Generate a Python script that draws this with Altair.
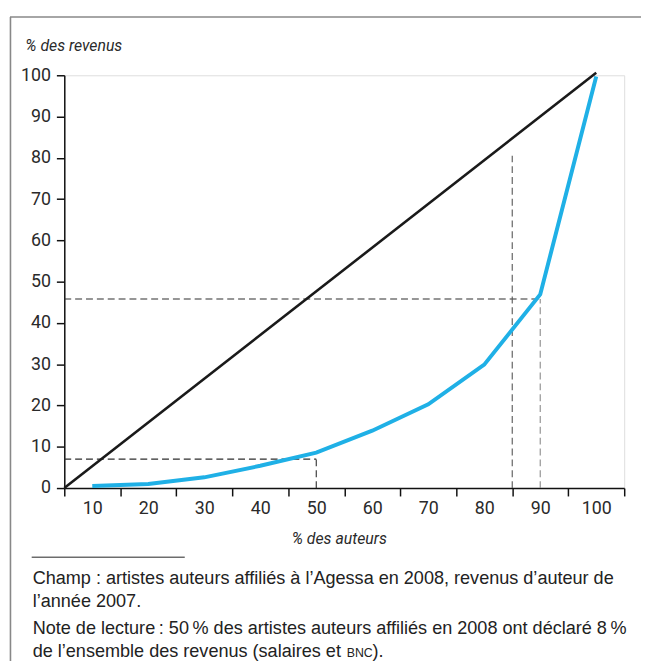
import altair as alt
import pandas as pd

# ---- data ----
authors = [10, 20, 30, 40, 50, 60, 70, 80, 90, 100]
revenue = [0.5, 1.0, 2.6, 5.4, 8.6, 13.9, 20.3, 29.9, 46.9, 99.7]

diag_x = [5, 100]
diag_y = [0, 100.6]

seg_x = [5, 50, 5, 90, 85]
seg_x2 = [50, 50, 90, 90, 85]
seg_y = [7, 0, 45.8, 0, 0]
seg_y2 = [7, 7, 45.8, 45.8, 80.5]
seg_kind = ["a", "a", "a", "b", "c"]

x_ticks = [5, 15, 25, 35, 45, 55, 65, 75, 85, 95, 105]
y_ticks = [0, 10, 20, 30, 40, 50, 60, 70, 80, 90, 100]

note1 = "Champ : artistes auteurs affiliés à l’Agessa en 2008, revenus d’auteur de"
note2 = "l’année 2007."
note3 = "Note de lecture\u2009: 50\u2009% des artistes auteurs affiliés en 2008 ont déclaré 8\u2009%"
note4a = "de l’ensemble des revenus (salaires et"
note4b = "BNC"
note4c = ")."

AXF = "Roboto, Liberation Sans, sans-serif"
SANS = "Liberation Sans, Arial, sans-serif"

curve = pd.DataFrame({"x": authors, "y": revenue})
diag = pd.DataFrame({"x": diag_x, "y": diag_y})
segs = pd.DataFrame({"x": seg_x, "x2": seg_x2, "y": seg_y, "y2": seg_y2, "k": seg_kind})
one = pd.DataFrame({"d": [0]})

xscale = alt.Scale(domain=[5, 105], nice=False, zero=False)
yscale = alt.Scale(domain=[0, 100], nice=False)

xaxis = alt.Axis(
    values=x_ticks,
    labelExpr="datum.value > 100 ? '' : format(datum.value + 5, 'd')",
    labelOffset=28.35,
    labelFont=AXF, labelFontSize=18, labelColor="#2a2a2a",
    labelPadding=4, labelFlush=False, labelOverlap=False,
    tickSize=8, tickColor="#111", tickWidth=1.5,
    domainColor="#111", domainWidth=1.5, grid=False,
    title="% des auteurs", titleFont=AXF, titleFontSize=16,
    titleFontStyle="italic", titleFontWeight="normal", titleColor="#2a2a2a",
    titleX=278, titleY=56, titleAlign="center", titleBaseline="alphabetic",
)
yaxis = alt.Axis(
    values=y_ticks,
    labelFont=AXF, labelFontSize=18, labelColor="#2a2a2a",
    labelPadding=6, labelFlush=False, labelOverlap=False,
    tickSize=8, tickColor="#111", tickWidth=1.5,
    domainColor="#111", domainWidth=1.5, grid=False,
    title="% des revenus", titleFont=AXF, titleFontSize=16,
    titleFontStyle="italic", titleFontWeight="normal", titleColor="#2a2a2a",
    titleAngle=0, titleX=-40, titleY=-25, titleAlign="left", titleBaseline="alphabetic",
)

dashed = alt.Chart(segs).mark_rule(strokeDash=[7, 4], strokeWidth=1.1).encode(
    x=alt.X("x:Q", scale=xscale, axis=xaxis),
    x2="x2:Q",
    y=alt.Y("y:Q", scale=yscale, axis=yaxis),
    y2="y2:Q",
    color=alt.Color("k:N", scale=alt.Scale(domain=["a", "b", "c"], range=["#2e2e2e", "#8a8a8a", "#555555"]), legend=None),
)

diag_line = alt.Chart(diag).mark_line(color="#1a1a1a", strokeWidth=2.6, clip=False).encode(
    x=alt.X("x:Q", scale=xscale), y=alt.Y("y:Q", scale=yscale)
)

curve_line = alt.Chart(curve).mark_line(color="#1fb0e6", strokeWidth=4, clip=False).encode(
    x=alt.X("x:Q", scale=xscale), y=alt.Y("y:Q", scale=yscale)
)

# frame
frame_top = alt.Chart(one).mark_rule(color="#888", strokeWidth=1.6).encode(
    x=alt.value(-55), x2=alt.value(600), y=alt.value(-59)
)
frame_left = alt.Chart(one).mark_rule(color="#888", strokeWidth=1.6).encode(
    x=alt.value(-54.5), y=alt.value(-59), y2=alt.value(620)
)
note_rule = alt.Chart(one).mark_rule(color="#222", strokeWidth=1).encode(
    x=alt.value(-33), x2=alt.value(122), y=alt.value(488)
)

def txt(s, x, y, size=18.3, font=SANS):
    return alt.Chart(one).mark_text(
        text=s, align="left", baseline="alphabetic", font=font, fontSize=size, color="#222"
    ).encode(x=alt.value(x), y=alt.value(y))

notes = [
    txt(note1, -32, 515),
    txt(note2, -32, 538),
    txt(note3, -32, 566),
    txt(note4a, -32, 589),
    txt(note4b, 286, 589, size=12.5),
    txt(note4c, 312, 589),
]

chart = alt.layer(
    frame_top, frame_left, dashed, diag_line, curve_line, note_rule, *notes
).properties(
    width=567, height=418,
    autosize=alt.AutoSizeParams(type="none"),
    padding={"left": 57, "top": 64, "right": 17, "bottom": 171},
).configure_view(stroke=None).configure(background="white")

chart.save("out.html", embed_options={"renderer": "svg", "actions": False})
